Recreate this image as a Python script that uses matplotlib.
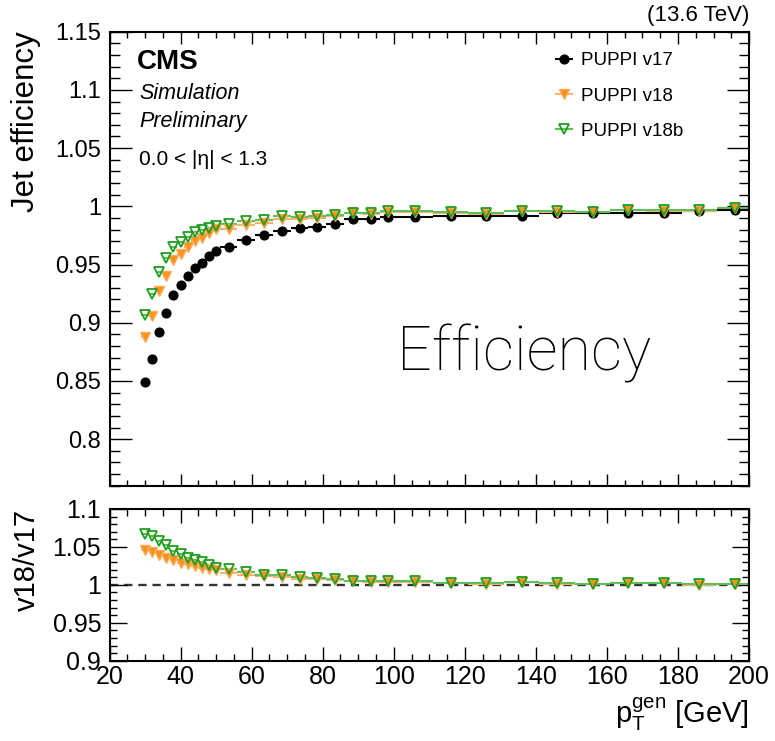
import numpy as np
import matplotlib
matplotlib.use('Agg')
import matplotlib.pyplot as plt
from matplotlib import font_manager
from matplotlib.ticker import MultipleLocator, FormatStrFormatter

# centros de los bins en pT (GeV) y medio ancho de cada bin
pt_centros = [30, 32, 34, 36, 38, 40, 42, 44, 46, 48, 50,
              53.5, 58.5, 63.5, 68.5, 73.5, 78.5, 83.5, 88.5, 93.5, 98.5,
              106, 116, 126, 136, 146, 156, 166, 176, 186, 196]
pt_medio_ancho = [1, 1, 1, 1, 1, 1, 1, 1, 1, 1, 1,
                  2.5, 2.5, 2.5, 2.5, 2.5, 2.5, 2.5, 2.5, 2.5, 2.5,
                  5, 5, 5, 5, 5, 5, 5, 5, 5, 5]

# eficiencias
eff_v17 = [0.849, 0.869, 0.892, 0.908, 0.924, 0.932, 0.940, 0.947, 0.951, 0.957, 0.962,
           0.965, 0.971, 0.975, 0.979, 0.981, 0.982, 0.985, 0.989, 0.989, 0.991,
           0.991, 0.992, 0.992, 0.992, 0.994, 0.994, 0.994, 0.994, 0.996, 0.997]
eff_v18 = [0.8878, 0.9061, 0.9270, 0.9403, 0.9538, 0.9591, 0.9654, 0.9701, 0.9725, 0.9774, 0.9805,
           0.9805, 0.9837, 0.9861, 0.9888, 0.9890, 0.9897, 0.9914, 0.9941, 0.9933, 0.9953,
           0.9953, 0.9946, 0.9937, 0.9959, 0.9953, 0.9949, 0.9970, 0.9962, 0.9960, 0.9983]
eff_v18b = [0.9063, 0.9250, 0.9436, 0.9554, 0.9650, 0.9694, 0.9735, 0.9779, 0.9799, 0.9816, 0.9834,
            0.9848, 0.9875, 0.9881, 0.9914, 0.9908, 0.9913, 0.9923, 0.9945, 0.9941, 0.9962,
            0.9958, 0.9950, 0.9940, 0.9962, 0.9960, 0.9950, 0.9970, 0.9970, 0.9968, 0.9985]

etiquetas = ['PUPPI v17', 'PUPPI v18', 'PUPPI v18b']

plt.rcParams['font.family'] = ['Liberation Sans', 'DejaVu Sans']
plt.rcParams['mathtext.fontset'] = 'custom'
plt.rcParams['mathtext.rm'] = 'Liberation Sans'
plt.rcParams['mathtext.it'] = 'Liberation Sans:italic'

nombres = {f.name for f in font_manager.fontManager.ttflist}
if 'Liberation Sans Narrow' in nombres:
    fuente_ratio = ['Liberation Sans Narrow', 'Liberation Sans']
    tam_ratio = 21
else:
    fuente_ratio = ['Liberation Sans', 'DejaVu Sans']
    tam_ratio = 18

fuente_light = 'Liberation Sans'
peso_light = 'normal'
for fam in ['Roboto', 'Lato', 'Open Sans', 'Inter', 'Noto Sans']:
    if any(f.name == fam and f.weight in (200, 300, 'light', 'extra light') for f in font_manager.fontManager.ttflist):
        fuente_light = fam
        peso_light = 'light'
        break

x = np.array(pt_centros)
xerr = np.array(pt_medio_ancho)
v17 = np.array(eff_v17)
v18 = np.array(eff_v18)
v18b = np.array(eff_v18b)

fig = plt.figure(figsize=(7.75, 7.41), dpi=100)
ax1 = fig.add_axes([0.1413, 0.3445, 0.8252, 0.6127])
ax2 = fig.add_axes([0.1413, 0.1084, 0.8252, 0.2047])

estilo_v17 = dict(fmt='o', color='black', ms=6.3, elinewidth=1.5, capsize=0)
estilo_v18 = dict(fmt='v', mfc='#f7931e', mec='#fbab5a', ecolor='#fdb36e', ms=7.5, mew=1, elinewidth=1.5, capsize=0)
estilo_v18b = dict(fmt='v', mfc='none', mec='#1f9e1f', ecolor='#5cbf5c', ms=7.5, mew=1.3, elinewidth=1.5, capsize=0)

ax1.errorbar(x, v17, xerr=xerr, label=etiquetas[0], **estilo_v17)
ax1.errorbar(x, v18, xerr=xerr, label=etiquetas[1], **estilo_v18)
ax1.errorbar(x, v18b, xerr=xerr, label=etiquetas[2], **estilo_v18b)

ax2.axhline(1.0, color='#333333', ls=(0, (3.5, 2.5)), lw=1.7, zorder=1)
ax2.errorbar(x, v18 / v17, xerr=xerr, **estilo_v18)
ax2.errorbar(x, v18b / v17, xerr=xerr, **estilo_v18b)

ax1.set_xlim(20, 200)
ax1.set_ylim(0.76, 1.15)
ax2.set_xlim(20, 200)
ax2.set_ylim(0.9, 1.1)

for ax in (ax1, ax2):
    ax.xaxis.set_major_locator(MultipleLocator(20))
    ax.xaxis.set_minor_locator(MultipleLocator(5))
    ax.yaxis.set_major_locator(MultipleLocator(0.05))
    ax.yaxis.set_minor_locator(MultipleLocator(0.01))
    ax.yaxis.set_major_formatter(FormatStrFormatter('%g'))
    ax.tick_params(which='both', direction='in', top=True, right=True, width=1)
    for s in ax.spines.values():
        s.set_linewidth(1.5)

ax1.tick_params(labelbottom=False)
ax1.tick_params(axis='y', which='major', length=15.5, labelsize=17, pad=6)
ax1.tick_params(axis='y', which='minor', length=7.5)
ax1.tick_params(axis='x', which='major', length=8.5)
ax1.tick_params(axis='x', which='minor', length=4.3)

ax2.tick_params(axis='y', which='major', length=12, labelsize=tam_ratio, pad=6)
ax2.tick_params(axis='y', which='minor', length=5)
ax2.tick_params(axis='x', which='major', length=10, labelsize=tam_ratio, pad=3)
ax2.tick_params(axis='x', which='minor', length=5)
for lab in ax2.get_xticklabels() + ax2.get_yticklabels():
    lab.set_fontfamily(fuente_ratio)

ax1.set_ylabel('Jet efficiency', fontsize=22.5, loc='top')
ax1.yaxis.set_label_coords(-0.107, 1.0)
ax2.set_ylabel('v18/v17', fontsize=21, loc='top')
ax2.yaxis.set_label_coords(-0.107, 1.0)
ax2.set_xlabel(r'$\mathrm{p}_{\mathrm{T}}^{\mathrm{gen}}$ [GeV]', fontsize=21, loc='right')
ax2.xaxis.set_label_coords(1.0, -0.23)

ax1.text(0.043, 0.933, 'CMS', transform=ax1.transAxes, fontsize=20, fontweight='bold', va='center')
ax1.text(0.046, 0.863, 'Simulation', transform=ax1.transAxes, fontsize=15.5, style='italic', va='center')
ax1.text(0.046, 0.803, 'Preliminary', transform=ax1.transAxes, fontsize=15.5, style='italic', va='center')
ax1.text(0.046, 0.719, '0.0 < |η| < 1.3', transform=ax1.transAxes, fontsize=15, va='center')
ax1.text(1.0, 1.012, '(13.6 TeV)', transform=ax1.transAxes, fontsize=16, ha='right', va='bottom')
ax1.text(0.449, 0.2548, 'Efficiency', transform=ax1.transAxes, fontsize=44,
         family=fuente_light, fontweight=peso_light, va='baseline', ha='left')

ax1.legend(loc='upper left', bbox_to_anchor=(0.693, 0.955), frameon=False, fontsize=13.5,
           handlelength=1.2, handletextpad=0.3, labelspacing=0.97, borderpad=0, borderaxespad=0)

fig.savefig('out.png', dpi=100)
